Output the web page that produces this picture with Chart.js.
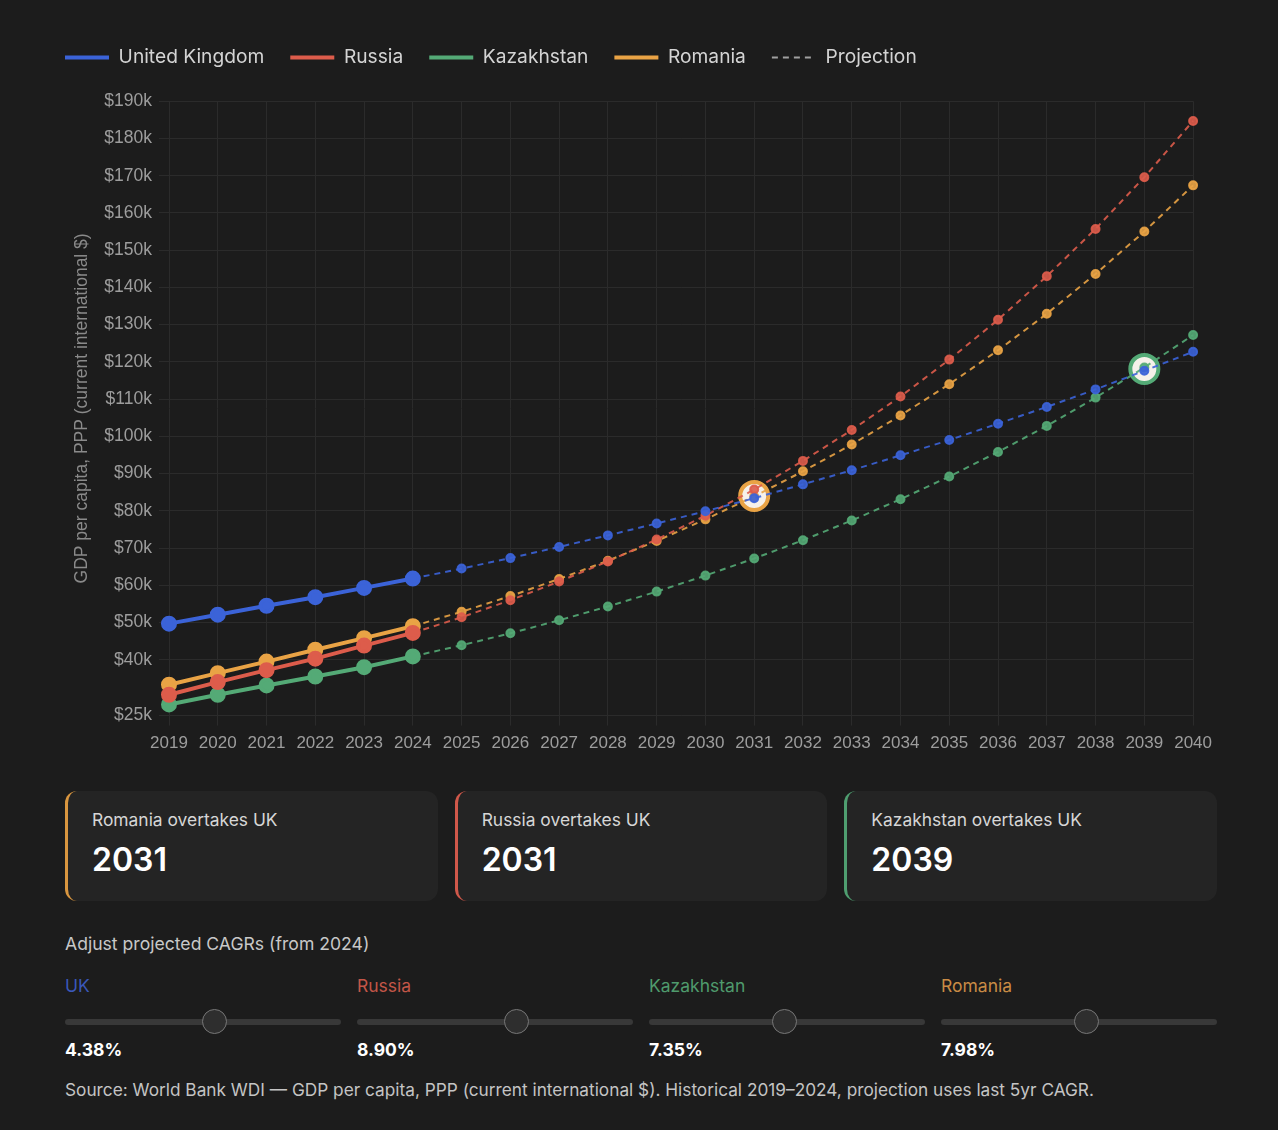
<!DOCTYPE html>
<html><head><meta charset="utf-8">
<script src="https://cdn.jsdelivr.net/npm/chart.js@4.4.1/dist/chart.umd.min.js"></script>
<style>
html,body{margin:0;padding:0;background:#1c1c1c;width:1278px;height:1130px;overflow:hidden;font-family:Inter,"Noto Sans",sans-serif;}
#chartWrap{position:absolute;left:39px;top:22px;width:1181px;height:740px;}
.cards{position:absolute;left:65px;top:791px;width:1152px;height:110px;display:grid;grid-template-columns:repeat(3,1fr);gap:17px;}
.card{position:relative;background:#242424;border-radius:12px;border-left:3px solid;box-sizing:border-box;}
.card .lab{position:absolute;left:24px;top:19px;font-size:17.4px;line-height:20px;color:#d6d6d6;}
.card .yr{position:absolute;left:24px;top:49px;font-size:32px;line-height:40px;font-weight:600;color:#ffffff;}
.adj{position:absolute;left:65px;top:934px;font-size:17.6px;line-height:20px;color:#c8c8c8;}
.sliders{position:absolute;left:65px;top:976px;width:1152px;display:grid;grid-template-columns:repeat(4,1fr);gap:16px;}
.sl{position:relative;height:90px;}
.sl .name{position:absolute;left:0;top:0;font-size:17.5px;line-height:20px;}
.sl .track{position:absolute;left:0;right:0;top:43px;height:6px;border-radius:3px;background:#383838;}
.sl .thumb{position:absolute;top:33px;width:25px;height:25px;margin-left:-13px;border-radius:50%;background:#2e2e2e;border:1px solid #777;box-sizing:border-box;}
.sl .val{position:absolute;left:0;top:64px;font-size:17.5px;line-height:20px;font-weight:700;color:#fff;}
.src{position:absolute;left:65px;top:1080px;font-size:17.25px;line-height:20px;color:#c4c4c4;white-space:nowrap;}
</style></head><body>
<div id="chartWrap"><canvas id="c"></canvas></div>

<div class="cards">
  <div class="card" style="border-left-color:#d9963f"><div class="lab">Romania overtakes UK</div><div class="yr">2031</div></div>
  <div class="card" style="border-left-color:#d0584a"><div class="lab">Russia overtakes UK</div><div class="yr">2031</div></div>
  <div class="card" style="border-left-color:#4f9e70"><div class="lab">Kazakhstan overtakes UK</div><div class="yr">2039</div></div>
</div>
<div class="adj">Adjust projected CAGRs (from 2024)</div>
<div class="sliders">
  <div class="sl"><div class="name" style="color:#3a57b8">UK</div><div class="track"></div><div class="thumb" style="left:150px"></div><div class="val">4.38%</div></div>
  <div class="sl"><div class="name" style="color:#c25648">Russia</div><div class="track"></div><div class="thumb" style="left:160px"></div><div class="val">8.90%</div></div>
  <div class="sl"><div class="name" style="color:#4f9a6c">Kazakhstan</div><div class="track"></div><div class="thumb" style="left:136px"></div><div class="val">7.35%</div></div>
  <div class="sl"><div class="name" style="color:#c98b45">Romania</div><div class="track"></div><div class="thumb" style="left:146px"></div><div class="val">7.98%</div></div>
</div>
<div class="src">Source: World Bank WDI — GDP per capita, PPP (current international $). Historical 2019–2024, projection uses last 5yr CAGR.</div>

<script>
// ---- data ----
const years = ['2019','2020','2021','2022','2023','2024','2025','2026','2027','2028','2029','2030','2031','2032','2033','2034','2035','2036','2037','2038','2039','2040'];
// historical 2019-2024
const ukHist  = [49700, 52100, 54500, 56800, 59300, 61800];
const rusHist = [30600, 34000, 37200, 40300, 43800, 47200];
const kazHist = [28000, 30600, 33100, 35500, 38000, 40900];
const romHist = [33300, 36400, 39500, 42700, 45800, 49000];
// projections 2025-2040
const ukProj  = [64500, 67300, 70300, 73400, 76600, 79900, 83400, 87100, 90900, 94900, 99000, 103400, 107900, 112600, 117600, 122700];
const rusProj = [51400, 56000, 61000, 66400, 72300, 78700, 85700, 93400, 101700, 110700, 120600, 131300, 143000, 155700, 169600, 184700];
const kazProj = [43900, 47100, 50600, 54300, 58300, 62600, 67200, 72100, 77400, 83100, 89200, 95800, 102800, 110400, 118500, 127200];
const romProj = [52900, 57100, 61700, 66600, 71900, 77700, 83900, 90600, 97800, 105600, 114000, 123100, 132900, 143600, 155000, 167400];
// overtaking markers
const crossYears  = ['2031', '2039'];
const crossValues = [84000, 118100];
const yTickMin = 25000, yTickStep = 10000;

// ---- styles ----
const COL = {uk:'#3b63d8', rus:'#dd5c4b', kaz:'#54aa76', rom:'#e9a345'};
const PCOL = {uk:'rgba(59,99,216,0.9)', rus:'rgba(221,92,75,0.9)', kaz:'rgba(84,170,118,0.9)', rom:'rgba(233,163,69,0.9)'};
const nProj = ukProj.length;
const padAfter = v => v.concat(Array(nProj).fill(null));
const padBefore = (h, p) => Array(h.length - 1).fill(null).concat([h[h.length - 1]], p);

function hist(label, data, c){
  return {label, data: padAfter(data), borderColor:c, backgroundColor:c, pointBackgroundColor:c, pointBorderColor:c,
    borderWidth:4, pointRadius:6, pointHoverRadius:6, tension:0, order:1};
}
function proj(label, h, p, c){
  return {label, data: padBefore(h, p), borderColor:c, backgroundColor:c, pointBackgroundColor:c, pointBorderColor:c,
    borderWidth:2, borderDash:[6,5], pointRadius: ctx => ctx.dataIndex === h.length - 1 ? 0 : 4, pointHoverRadius:4, tension:0, order:5};
}

const datasets = [
  hist('United Kingdom', ukHist, COL.uk),
  hist('Russia', rusHist, COL.rus),
  hist('Kazakhstan', kazHist, COL.kaz),
  hist('Romania', romHist, COL.rom),
  proj('UK proj', ukHist, ukProj, PCOL.uk),
  proj('Russia proj', rusHist, rusProj, PCOL.rus),
  proj('Kazakhstan proj', kazHist, kazProj, PCOL.kaz),
  proj('Romania proj', romHist, romProj, PCOL.rom),
  {label:'Overtake', data: crossYears.map((y,i)=>({x:y, y:crossValues[i]})), showLine:false,
   pointRadius:14, pointHoverRadius:14, pointBorderWidth:4, pointBackgroundColor:'#f6f1ea',
   pointBorderColor:[COL.rom, COL.kaz], order:10}
];

const legendItems = [
  {text:'United Kingdom', c:COL.uk, dash:[], w:4},
  {text:'Russia', c:COL.rus, dash:[], w:4},
  {text:'Kazakhstan', c:COL.kaz, dash:[], w:4},
  {text:'Romania', c:COL.rom, dash:[], w:4},
  {text:'Projection', c:'#a0a0a0', dash:[6,5], w:2}
];

const legendMargin = {id:'legendMargin', beforeInit(chart){
  const orig = chart.legend.fit;
  chart.legend.fit = function(){ orig.bind(chart.legend)(); this.height += 24; };
}};

Chart.defaults.font.family = "'Liberation Sans', Arial, sans-serif";
new Chart(document.getElementById('c'), {
  type:'line',
  data:{labels: years, datasets},
  plugins:[legendMargin],
  options:{
    responsive:true, maintainAspectRatio:false, animation:false,
    layout:{padding:{right:0}},
    plugins:{
      tooltip:{enabled:false},
      legend:{position:'top', align:'start',
        labels:{usePointStyle:true, pointStyleWidth:44, padding:26, color:'#d4d4d4',
          font:{family:'Inter', size:19.2},
          generateLabels: () => legendItems.map((it,i)=>({text:it.text, fillStyle:it.c, strokeStyle:it.c, lineWidth:it.w,
            lineDash:it.dash, pointStyle:'line', hidden:false, datasetIndex:i, fontColor:'#d4d4d4'}))
        }
      }
    },
    scales:{
      x:{grid:{color:'#2b2b2b', tickColor:'#2b2b2b', tickLength:10}, border:{display:false},
         ticks:{color:'#9d9d9d', font:{size:17}, padding:8, maxRotation:0, autoSkip:false}},
      y:{min:yTickMin, grid:{color:'#2b2b2b', tickColor:'#2b2b2b', tickLength:10}, border:{display:false},
         ticks:{stepSize:yTickStep, color:'#9d9d9d', font:{size:17.5}, padding:7, callback:v=>'$'+(v/1000)+'k'},
         title:{display:true, text:'GDP per capita, PPP (current international $)', color:'#8a8a8a', font:{size:17.5}, padding:{top:33, bottom:10}},
         afterFit: s => { s.width = 130; }
      }
    }
  }
});
</script>
</body></html>
